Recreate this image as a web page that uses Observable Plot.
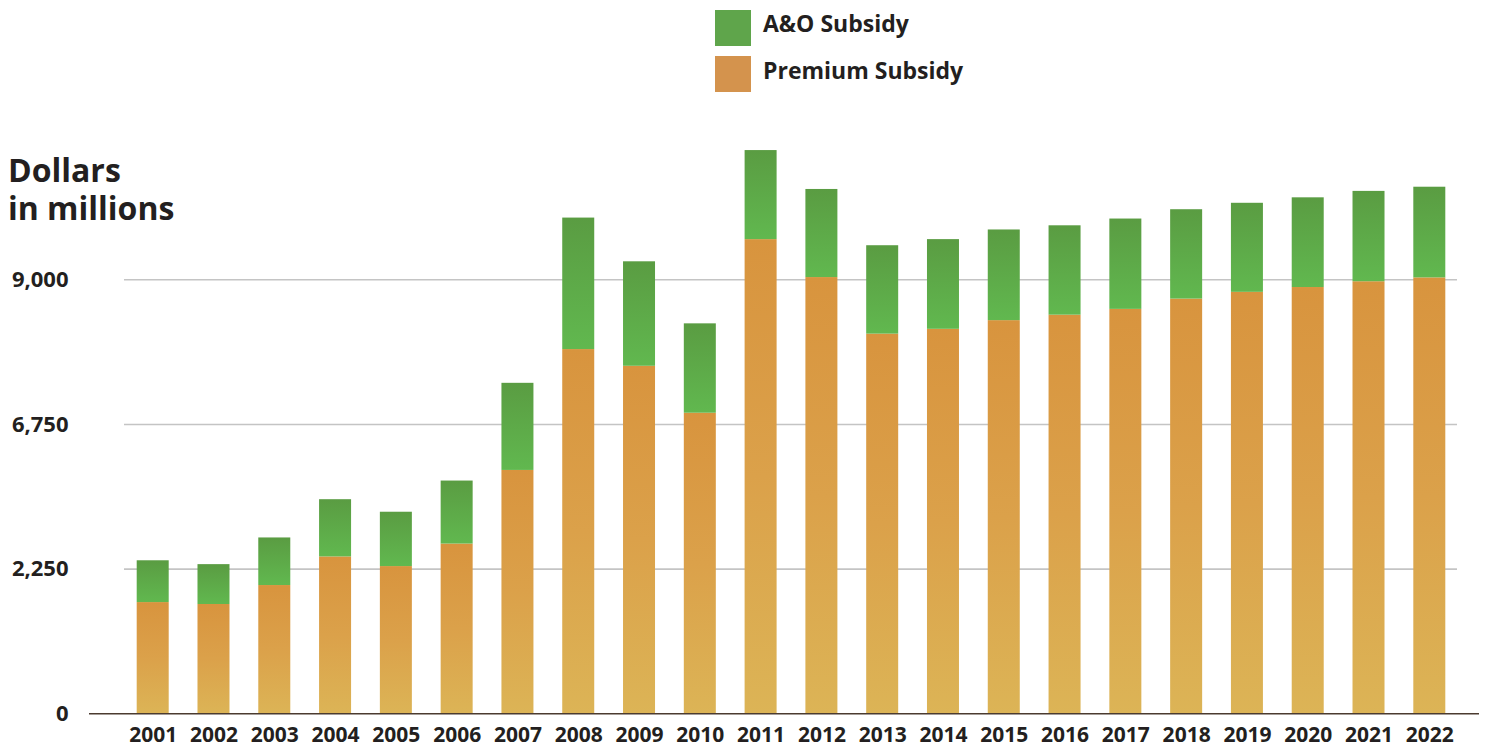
<!DOCTYPE html>
<html>
<head>
<meta charset="utf-8">
<script src="https://cdn.jsdelivr.net/npm/d3@7"></script>
<script src="https://cdn.jsdelivr.net/npm/@observablehq/plot@0.6"></script>
<style>
  html, body { margin: 0; padding: 0; background: #fff; }
  #wrap { position: relative; width: 1486px; height: 748px; font-family: "Open Sans", sans-serif; color: #231f20; }
  #wrap svg.plot { position: absolute; left: 0; top: 0; }
  .lg-sw { position: absolute; left: 715px; width: 36px; height: 36px; }
  .lg-tx { position: absolute; left: 763px; font-size: 23px; line-height: 23px; font-weight: 700; white-space: nowrap; }
  .title { position: absolute; left: 8px; font-size: 32px; line-height: 32px; font-weight: 700; white-space: nowrap; }
</style>
</head>
<body>
<svg width="0" height="0" style="position:absolute">
  <defs>
    <linearGradient id="gradOrange" x1="0" y1="0" x2="0" y2="1">
      <stop offset="0%" stop-color="#d8943e"/>
      <stop offset="50%" stop-color="#dba14a"/>
      <stop offset="100%" stop-color="#dcb456"/>
    </linearGradient>
    <linearGradient id="gradGreen" x1="0" y1="0" x2="0" y2="1">
      <stop offset="0%" stop-color="#5a9c42"/>
      <stop offset="100%" stop-color="#61b84f"/>
    </linearGradient>
  </defs>
</svg>
<div id="wrap">
  <div class="lg-sw" style="top:10px;background:#5fa54b"></div>
  <div class="lg-tx" style="top:12px">A&amp;O Subsidy</div>
  <div class="lg-sw" style="top:56px;background:#d4934d"></div>
  <div class="lg-tx" style="top:58.5px">Premium Subsidy</div>
  <div class="title" style="top:154px">Dollars</div>
  <div class="title" style="top:192px">in millions</div>
</div>
<script>
const years = ["2001","2002","2003","2004","2005","2006","2007","2008","2009","2010","2011",
               "2012","2013","2014","2015","2016","2017","2018","2019","2020","2021","2022"];
const premiumSubsidy = [1730,1700,1995,2440,2290,2640,3785,5665,5405,4675,7375,
                        6785,5905,5980,6115,6200,6290,6450,6555,6630,6720,6780];
const aoSubsidy = [650,620,740,890,845,980,1355,2045,1625,1390,1385,
                   1370,1375,1395,1410,1390,1405,1390,1385,1395,1405,1410];
const tickValues = [0, 2250, 4500, 6750];
const tickLabels = ["0", "2,250", "6,750", "9,000"];

const rows = years.map((year, i) => ({
  year,
  premium: premiumSubsidy[i],
  total: premiumSubsidy[i] + aoSubsidy[i]
}));
const labelMap = new Map(tickValues.map((v, i) => [v, tickLabels[i]]));

const chart = Plot.plot({
  width: 1486,
  height: 748,
  marginLeft: 89,
  marginRight: 7,
  marginTop: 279.3,
  marginBottom: 34.7,
  style: { fontFamily: "'Open Sans', sans-serif", background: "transparent", color: "#231f20", overflow: "visible" },
  x: { domain: years, paddingInner: 0.4736, paddingOuter: 0.6695, align: 0.586, round: false, label: null },
  y: { domain: [0, 6750], label: null },
  marks: [
    Plot.ruleY(tickValues.slice(1), { stroke: "#c4c4c4", strokeWidth: 1.6, insetLeft: 35, insetRight: 22 }),
    Plot.barY(rows, { x: "year", y1: 0, y2: "premium", fill: "url(#gradOrange)" }),
    Plot.barY(rows, { x: "year", y1: "premium", y2: "total", fill: "url(#gradGreen)" }),
    Plot.ruleY([0], { stroke: "#4b3b30", strokeWidth: 1.6 }),
    Plot.axisY({ ticks: tickValues, tickFormat: d => labelMap.get(d), tickSize: 0, tickPadding: 21,
                 fontSize: 22, fontWeight: 700, fill: "#231f20", label: null }),
    Plot.axisX({ tickSize: 0, tickPadding: 13.3, fontSize: 21, fontWeight: 700, fill: "#231f20", label: null })
  ]
});
chart.classList.add("plot");
document.getElementById("wrap").prepend(chart);
</script>
</body>
</html>
